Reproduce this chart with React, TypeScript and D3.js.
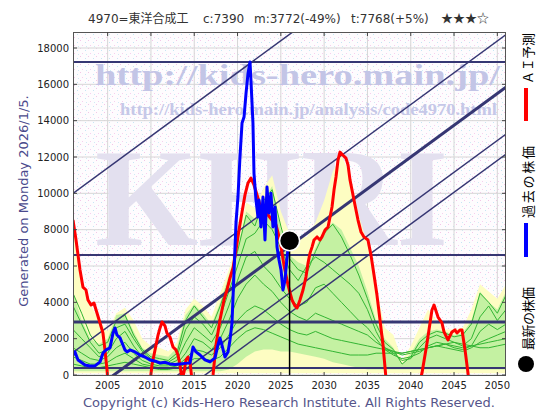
import React from "react";
import * as d3 from "d3";

// ---------- data ----------
const years = [2001,2002,2003,2004,2005,2006,2007,2008,2009,2010,2011,2012,2013,2014,2015,2016,2017,2018,2019,2020,2021,2022,2023,2024,2025,2026,2027,2028,2029,2030,2031,2032,2033,2034,2035,2036,2037,2038,2039,2040,2041,2042,2043,2044,2045,2046,2047,2048,2049,2050,2051];

const yellowHi = [8400,5000,3900,3000,2400,3400,3700,3000,2000,1600,1500,1300,1800,3600,4200,3800,3200,4500,5800,7500,9500,9200,10300,11000,9000,7800,7600,7600,8400,9600,11200,12100,11000,8800,7200,4800,2600,2200,800,1600,2600,3600,3000,2500,2500,2600,3600,5000,4600,4200,5000];
const yellowLo = [100,100,100,100,100,100,100,100,100,100,100,100,100,100,100,100,100,100,100,100,100,100,100,100,100,100,100,100,100,100,100,100,100,100,100,100,100,100,100,100,100,100,100,100,100,100,100,100,100,100,100];
const greenHi = [4600,3000,2000,1700,2000,3300,3400,2400,1500,1200,1100,1000,1500,3300,3900,3400,2800,4000,5500,7000,9000,8600,9600,10400,8000,6600,6200,6000,7000,8000,8400,8000,7000,6000,4600,3000,2000,1500,600,1200,2000,2400,2500,2400,2200,2300,3000,4600,4000,3600,4600];
const greenLo = [200,200,200,200,200,200,200,200,200,200,200,200,200,200,200,200,200,200,300,600,1000,1300,1400,1400,1300,1300,1200,1100,1000,900,700,600,500,400,300,300,300,300,300,300,300,300,300,300,300,300,300,300,300,300,300];

const sim1 = [4500,3400,2200,1600,1800,3000,3300,2200,1400,1000,900,800,1200,3000,3800,3200,2600,3800,5200,6800,8800,8200,9600,10200,8200,6400,5800,5600,6800,7800,8300,7600,6600,5500,4200,2800,1800,1400,600,1000,1800,2200,2400,2300,2100,2200,2800,4500,4000,3400,4400];
const sim2 = [3800,2800,1800,1200,1400,2600,2800,2000,1300,900,700,700,1000,2500,3200,2800,2200,3200,4600,6000,7500,7800,8500,8000,7000,5800,5200,6000,6500,6200,5800,5400,5000,4500,3600,2400,1500,1200,800,900,1500,2000,2200,2000,1800,1600,2000,3200,3800,3000,3600];
const sim3 = [2500,2000,1500,1000,1200,2000,2400,1600,1000,800,600,600,800,1800,2600,2200,1800,2600,3800,5200,6500,6800,6000,5500,4800,4200,3800,4000,4800,5000,4500,4000,3500,3000,2600,2000,1400,1100,900,1000,1200,1600,1800,1700,1500,1400,1600,2400,2800,2500,2800];
const sim4 = [1500,1200,900,800,1000,1500,1800,1200,800,600,500,500,600,1200,2000,1800,1400,2000,3000,4200,5000,5500,5000,4600,4000,3500,3200,3000,3400,3200,3000,2800,2600,2400,2200,1800,1500,1300,1100,1200,1300,1500,1600,1500,1400,1300,1500,1800,2000,2200,2400];
const sim5 = [1000,800,600,600,700,1000,1200,900,600,500,400,400,500,900,1400,1300,1100,1500,2200,3000,3500,3800,3600,3200,2800,2500,2300,2200,2400,2200,2000,1900,1800,1700,1600,1500,1400,1300,1200,1300,1400,1500,1600,1700,1600,1500,1600,1700,1800,1900,2000];
const sim6 = [600,500,400,400,500,600,700,600,500,400,300,300,400,600,900,900,800,1000,1500,2000,2400,2600,2500,2300,2100,1900,1700,1600,1500,1400,1300,1200,1100,1100,1100,1200,1200,1200,1200,1300,1400,1500,1600,1700,1800,1700,1600,1500,1500,1600,1700];
const simPaths = [sim1, sim2, sim3, sim4, sim5, sim6];

const pastT = [2001.0,2001.23,2001.58,2002.39,2002.96,2003.54,2004.12,2004.46,2004.81,2005.27,2005.62,2005.85,2006.08,2006.43,2006.77,2007.0,2007.24,2007.58,2008.16,2008.74,2009.31,2009.89,2010.5,2011.05,2011.6,2012.2,2012.8,2013.36,2013.9,2014.51,2014.86,2015.2,2015.67,2016.24,2016.82,2017.4,2017.74,2017.97,2018.2,2018.55,2018.9,2019.13,2019.36,2019.59,2019.82,2020.05,2020.28,2020.52,2020.75,2020.98,2021.21,2021.44,2021.55,2021.78,2021.9,2022.13,2022.36,2022.48,2022.71,2022.94,2023.17,2023.4,2023.63,2023.86,2024.09,2024.33,2024.56,2024.79,2025.02,2025.25,2025.48,2025.72,2025.95,2026.01];
const pastV = [1100,1270,830,550,500,500,720,1210,1380,1490,2310,2590,2200,2040,1650,1380,1270,1380,1270,1100,990,830,760,660,700,610,580,610,640,660,1540,1270,1100,830,720,940,1650,2040,1650,990,1270,1930,2860,5610,8370,9800,12000,13870,14200,15500,16600,17230,16200,13870,11100,9630,8700,9630,8150,9800,7430,10350,8920,10000,8150,9250,7040,6330,5780,4680,5230,6500,7320,7390];

const aiT = [2001.0,2001.35,2001.81,2002.15,2002.5,2002.73,2003.08,2003.42,2003.77,2004.12,2004.46,2004.69,2004.93,2005.1,2009.8,2010.12,2010.47,2010.82,2011.05,2011.28,2011.62,2011.85,2012.2,2012.55,2012.89,2013.12,2013.36,2013.59,2013.82,2014.05,2014.28,2014.51,2014.86,2016.9,2017.17,2017.51,2017.97,2018.44,2018.78,2019.13,2019.48,2019.82,2020.17,2020.52,2020.86,2021.21,2021.55,2021.9,2022.25,2022.59,2023.06,2023.52,2023.98,2024.44,2024.9,2025.36,2025.83,2026.29,2026.64,2026.87,2027.21,2027.56,2027.9,2028.14,2028.37,2028.6,2028.83,2029.18,2029.52,2029.75,2030.1,2030.45,2030.68,2030.91,2031.14,2031.37,2031.6,2031.83,2032.18,2032.52,2032.76,2032.99,2033.22,2033.56,2033.91,2034.26,2034.6,2035.06,2035.41,2035.76,2036.1,2036.45,2036.8,2037.14,2037.4,2040.8,2041.3,2041.88,2042.45,2042.69,2043.15,2043.61,2043.84,2044.3,2044.76,2045.11,2045.34,2045.69,2045.92,2046.27,2046.61,2046.8,2051.2];
const aiV = [8530,7430,5780,4840,4680,4130,3850,3960,3410,2860,2310,1380,280,-800,-800,550,1380,2200,2590,2920,2700,2310,2090,1540,1380,1100,550,-300,170,830,990,720,-800,-800,0,1650,3030,4130,4680,5340,5890,6880,7980,8970,9910,10570,10840,10460,9910,9360,8970,8810,8530,8260,7430,6050,4950,4130,3800,3690,4130,4680,5390,6160,6710,7040,7430,7600,7430,7600,7980,8150,8700,9250,10180,10900,11830,12270,12100,11940,11560,10730,10180,9360,8530,7870,7600,7430,6600,5500,4400,3030,1650,-170,-800,-800,110,1760,3580,3850,3190,2860,2370,1930,2370,2480,2310,2480,2480,1380,110,-800,-800];

const latestT = 2026.01;
const latestV = 7390;

const levels = [17230, 6600, 2920, 380];
const channelStart = [10000, 1240, -1650, -4240, -5340]; // value at 2001
const channelSlope = 350; // yen per year

const xTicks = [2005,2010,2015,2020,2025,2030,2035,2040,2045,2050];
const yTicks = [0,2000,4000,6000,8000,10000,12000,14000,16000,18000];

// ---------- styles ----------
const PL = 73, PR = 506, PT = 32, PB = 376;
const levelWidths = [2, 2, 3, 2];
const channelWidths = [1.5, 1.5, 3, 1.5, 1.5];
const NAVY = "#363673";
const SANS = "'DejaVu Sans', 'Noto Sans CJK JP', sans-serif";
const CJK = "'Noto Sans CJK JP', 'DejaVu Sans', sans-serif";
const SERIF = "'Liberation Serif', 'DejaVu Serif', serif";

export default function App() {
  const x = d3.scaleLinear().domain([2001, 2051]).range([PL, PR]);
  const y = d3.scaleLinear().domain([0, 18000]).range([375, 48]);

  const area = (lo: number[], hi: number[]) =>
    d3.area<number>().x((_, i) => x(years[i])).y0((_, i) => y(lo[i])).y1((_, i) => y(hi[i]))(years) || "";
  const simLine = (vals: number[]) =>
    d3.line<number>().x((_, i) => x(years[i])).y((v) => y(v))(vals) || "";
  const tvLine = (ts: number[], vs: number[]) =>
    d3.line<number>().x((t) => x(t)).y((_, i) => y(vs[i]))(ts) || "";

  const t0 = 2001, t1 = 2051.2;

  return (
    <svg width={560} height={420} style={{ position: "absolute", left: 0, top: 0, background: "#fff" }}>
      <defs>
        <pattern id="bgdots" width="8" height="8" patternUnits="userSpaceOnUse">
          <rect width="8" height="8" fill="#fefcfe" />
          <rect x="0" y="0" width="1" height="1" fill="#f3c6e8" />
          <rect x="5" y="2" width="1" height="1" fill="#c6e6f4" />
          <rect x="2" y="5" width="1" height="1" fill="#f6d0ee" />
          <rect x="6" y="6" width="1" height="1" fill="#cfeaf5" />
        </pattern>
        <clipPath id="plotclip">
          <rect x={PL} y={PT} width={PR - PL} height={PB - PT} />
        </clipPath>
      </defs>

      {/* title */}
      <g fontFamily={SANS} fontSize={12} fill="#333">
        <text x={88} y={23}>4970=東洋合成工</text>
        <text x={203} y={23}>c:7390</text>
        <text x={254} y={23}>m:3772(-49%)</text>
        <text x={351} y={23}>t:7768(+5%)</text>
        <text x={441} y={23} fontFamily={CJK}>★★★☆</text>
      </g>

      {/* plot background */}
      <rect x={PL} y={PT} width={PR - PL} height={PB - PT} fill="url(#bgdots)" />

      <g clipPath="url(#plotclip)">
        {/* grid */}
        {xTicks.map((t) => (
          <line key={"gx" + t} x1={x(t)} x2={x(t)} y1={PT} y2={PB} stroke="#d6d6d6" strokeWidth={1} />
        ))}
        {yTicks.map((v) => (
          <line key={"gy" + v} x1={PL} x2={PR} y1={y(v)} y2={y(v)} stroke="#d6d6d6" strokeWidth={1} />
        ))}

        {/* watermarks */}
        <text x={95} y={245} fontFamily={SERIF} fontWeight="bold" fontSize={140} fill="#e3e0ef" textLength={353} lengthAdjust="spacingAndGlyphs">KHRI</text>
        <text x={95} y={85} fontFamily={SERIF} fontWeight="bold" fontSize={30} fill="#c3c5e6" textLength={405} lengthAdjust="spacingAndGlyphs">http://kids-hero.main.jp/</text>
        <text x={120} y={115} fontFamily={SERIF} fontWeight="bold" fontSize={17} fill="#c6c8e8" textLength={377} lengthAdjust="spacingAndGlyphs">http://kids-hero.main.jp/analysis/code4970.html</text>

        {/* simulation bands */}
        <path d={area(yellowLo, yellowHi)} fill="#fdfdc2" />
        <path d={area(greenLo, greenHi)} fill="#c4f1a2" />
        {simPaths.map((p, i) => (
          <path key={"s" + i} d={simLine(p)} fill="none" stroke="#33b533" strokeWidth={1} />
        ))}

        {/* levels */}
        {levels.map((v, i) => (
          <line key={"l" + i} x1={PL} x2={PR} y1={y(v)} y2={y(v)} stroke={NAVY} strokeWidth={levelWidths[i]} />
        ))}
        {/* channels */}
        {channelStart.map((v, i) => (
          <line key={"c" + i} x1={x(t0)} y1={y(v)} x2={x(t1)} y2={y(v + channelSlope * (t1 - t0))} stroke={NAVY} strokeWidth={channelWidths[i]} />
        ))}

        {/* AI forecast */}
        <path d={tvLine(aiT, aiV)} fill="none" stroke="#ff0000" strokeWidth={3} strokeLinejoin="round" />
        {/* past prices */}
        <path d={tvLine(pastT, pastV)} fill="none" stroke="#0000ff" strokeWidth={3} strokeLinejoin="round" />

        {/* latest */}
        <line x1={x(latestT)} x2={x(latestT)} y1={y(latestV)} y2={PB} stroke="#000" strokeWidth={1.5} />
        <circle cx={x(latestT)} cy={y(latestV)} r={10} fill="#000" stroke="#fff" strokeWidth={1.5} />
      </g>

      {/* frame & ticks */}
      <rect x={PL + 0.5} y={PT + 0.5} width={PR - PL - 1} height={PB - PT - 1} fill="none" stroke="#555" strokeWidth={1} />
      {xTicks.map((t) => (
        <g key={"tx" + t} stroke="#444">
          <line x1={x(t)} x2={x(t)} y1={PT} y2={PT + 4} />
          <line x1={x(t)} x2={x(t)} y1={PB} y2={PB - 4} />
        </g>
      ))}
      {yTicks.map((v) => (
        <g key={"ty" + v} stroke="#444">
          <line x1={PL} x2={PL + 4} y1={y(v)} y2={y(v)} />
          <line x1={PR} x2={PR - 4} y1={y(v)} y2={y(v)} />
        </g>
      ))}

      {/* axis labels */}
      <g fontFamily={SANS} fontSize={10} fill="#222">
        {xTicks.map((t) => (
          <text key={"lx" + t} x={x(t)} y={389} textAnchor="middle">{t}</text>
        ))}
        {yTicks.map((v) => (
          <text key={"ly" + v} x={69} y={y(v)} dy="0.36em" textAnchor="end">{v}</text>
        ))}
      </g>

      {/* side texts */}
      <text transform="translate(28,201) rotate(-90)" textAnchor="middle" fontFamily={SANS} fontSize={13} fill="#4a4a8c">Generated on Monday 2026/1/5.</text>
      <text x={289} y={407} textAnchor="middle" fontFamily={SANS} fontSize={12} fill="#55558a" textLength={412} lengthAdjust="spacingAndGlyphs">Copyright (c) Kids-Hero Research Institute. All Rights Reserved.</text>

      {/* legend */}
      <rect x={524} y={88} width={4} height={33} fill="#ff0000" />
      <text transform="translate(527,84) rotate(-90)" dominantBaseline="central" fontFamily={CJK} fontSize={13} fill="#000" textLength={51} lengthAdjust="spacing">ＡＩ予測</text>
      <rect x={524} y={223} width={4} height={34} fill="#0000ff" />
      <text transform="translate(527,218) rotate(-90)" dominantBaseline="central" fontFamily={CJK} fontSize={13} fill="#000" textLength={72} lengthAdjust="spacing">過去の株価</text>
      <circle cx={526} cy={364} r={8} fill="#000" />
      <text transform="translate(527,350) rotate(-90)" dominantBaseline="central" fontFamily={CJK} fontSize={13} fill="#000" textLength={63} lengthAdjust="spacing">最新の株価</text>
    </svg>
  );
}
